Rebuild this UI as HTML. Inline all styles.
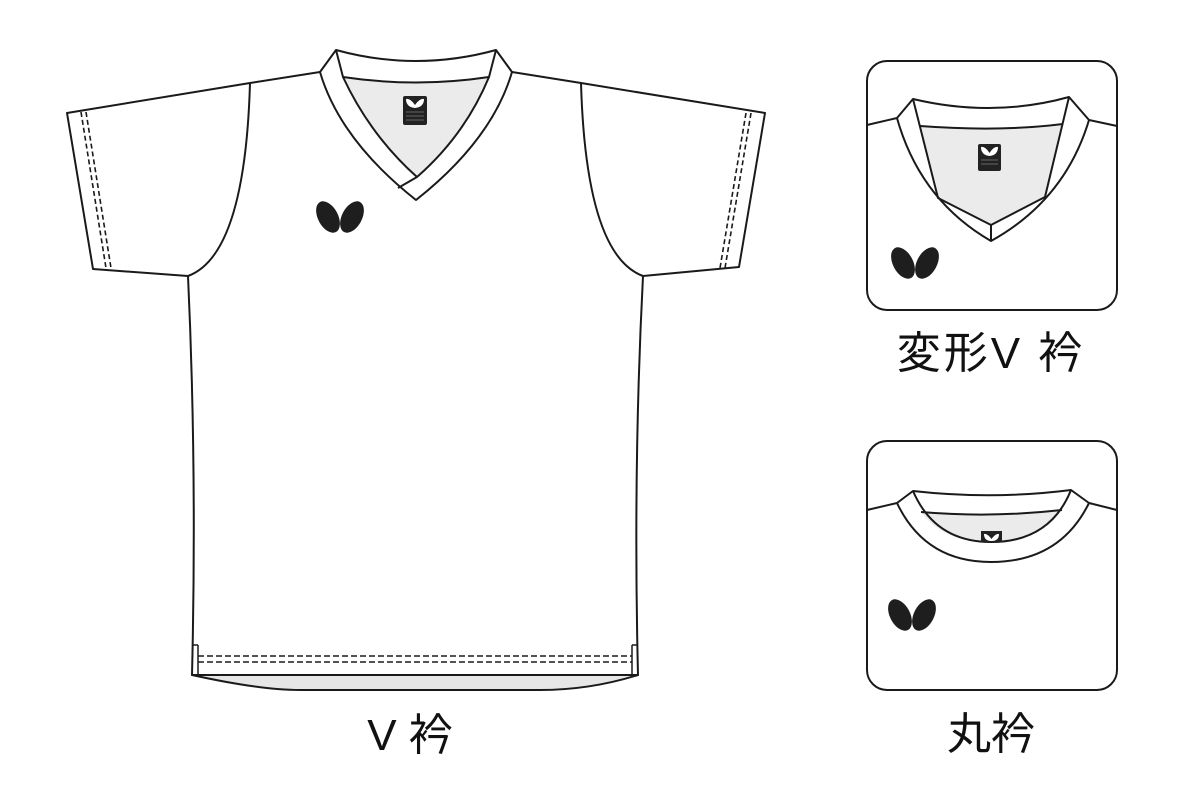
<!DOCTYPE html>
<html><head><meta charset="utf-8"><style>
html,body{margin:0;padding:0;background:#fff;}
svg{display:block;}
text{font-family:"Liberation Sans","Noto Sans CJK JP",sans-serif;fill:#111;}
</style></head><body>
<svg width="1200" height="800" viewBox="0 0 1200 800" xmlns="http://www.w3.org/2000/svg">
<g fill="none" stroke="#1a1a1a" stroke-width="2" stroke-linejoin="round">
<path d="M192 675 Q260 690 300 690 L540 690 Q590 690 638 675 Z" fill="#e6e6e6"/>
<path d="M320 72 L250 83 L67 113 L93 269 L188 276 Q197 470 192 675 L638 675 Q633 470 643 276 L739 267 L765 113 L581 83 L512 72" fill="#fff"/>
<path d="M250 83 Q245 255 188 276"/>
<path d="M581 83 Q586 255 643 276"/>
<path d="M343 77 Q416 88 489 77 Q465 135 417 177 Q370 135 343 77 Z" fill="#ebebeb" stroke="none"/>
<path d="M320 72 L336 50 Q416 72 496 50 L512 72"/>
<path d="M320 72 Q340 140 416 200 Q492 140 512 72"/>
<path d="M336 50 L343 77 Q416 88 489 77 L496 50"/>
<path d="M343 77 Q370 135 417 177"/>
<path d="M489 77 Q465 135 417 177 L398 188"/>
<path d="M198 656 L632 656 M198 662 L632 662" stroke-dasharray="6 3" stroke-width="1.6"/>
<path d="M198 645 L198 675 M632 645 L632 675" stroke-width="1.5"/>
<path d="M192 645 L198 645 M632 645 L638 645" stroke-width="1.5"/>
<path d="M81 112 L106 268 M86 112 L111 268" stroke-dasharray="5 3" stroke-width="1.6"/>
<path d="M751 113 L725 268 M746 113 L720 268" stroke-dasharray="5 3" stroke-width="1.6"/>
</g>
<rect x="403" y="96" width="24" height="29" rx="2" fill="#222"/>
<path d="M406 99 Q410 98 415 105 Q420 98 424 99 Q424 107 415 108 Q406 107 406 99 Z" fill="#fff"/>
<path d="M406 112 L424 112 M406 116 L424 116 M406 120 L424 120" stroke="#aaa" stroke-width="0.6"/>
<ellipse cx="328" cy="217" rx="10" ry="17" transform="rotate(-28 328 217)" fill="#1e1e1e"/>
<ellipse cx="352" cy="217" rx="10" ry="17" transform="rotate(28 352 217)" fill="#1e1e1e"/>

<rect x="867" y="61" width="250" height="249" rx="20" fill="#fff" stroke="#1a1a1a" stroke-width="2"/>
<g fill="none" stroke="#1a1a1a" stroke-width="2" stroke-linejoin="round">
<path d="M920 126 Q1000 132 1063 124 L1045 197 L991 225 L938 198 Z" fill="#ebebeb" stroke="none"/>
<path d="M867 125 L897 118 L913 99 Q993 118 1069 97 L1089 120 L1117 126"/>
<path d="M897 118 Q920 200 991 241 Q1065 200 1089 120"/>
<path d="M913 99 L938 198 L991 225 L1045 197 L1069 97"/>
<path d="M920 126 Q1000 132 1063 124"/>
<path d="M991 225 L991 241"/>
</g>
<rect x="978" y="144" width="23" height="27" rx="2" fill="#222"/>
<path d="M981 147 Q985 146 989.5 153 Q994 146 998 147 Q998 155 989.5 156 Q981 155 981 147 Z" fill="#fff"/>
<path d="M981 160 L998 160 M981 164 L998 164" stroke="#aaa" stroke-width="0.6"/>
<ellipse cx="903" cy="263" rx="10" ry="17" transform="rotate(-28 903 263)" fill="#1e1e1e"/>
<ellipse cx="927" cy="263" rx="10" ry="17" transform="rotate(28 927 263)" fill="#1e1e1e"/>

<rect x="867" y="441" width="250" height="249" rx="20" fill="#fff" stroke="#1a1a1a" stroke-width="2"/>
<g fill="none" stroke="#1a1a1a" stroke-width="2" stroke-linejoin="round">
<path d="M921 512 Q991 518 1062 510 Q1040 542 991 542 Q943 542 921 512 Z" fill="#ebebeb" stroke="none"/>
<path d="M867 510 L897 503 L913 491 Q993 500 1071 490 L1089 503 L1117 510"/>
<path d="M897 503 Q925 562 991 562 Q1060 562 1089 503"/>
<path d="M913 491 Q935 542 991 542 Q1050 542 1071 490"/>
<path d="M921 512 Q991 518 1062 510"/>
</g>
<rect x="981" y="531" width="21" height="11" fill="#222"/>
<path d="M984 534 Q987 533 991.5 539 Q996 533 999 534 Q999 541 991.5 541 Q984 541 984 534 Z" fill="#fff"/>
<ellipse cx="900" cy="615" rx="10" ry="17" transform="rotate(-28 900 615)" fill="#1e1e1e"/>
<ellipse cx="924" cy="615" rx="10" ry="17" transform="rotate(28 924 615)" fill="#1e1e1e"/>

<text x="410" y="750" font-size="44" text-anchor="middle">V 衿</text>
<text x="991" y="368" font-size="44" text-anchor="middle" letter-spacing="3">変形V 衿</text>
<text x="991" y="749" font-size="44" text-anchor="middle">丸衿</text>
</svg>
</body></html>
